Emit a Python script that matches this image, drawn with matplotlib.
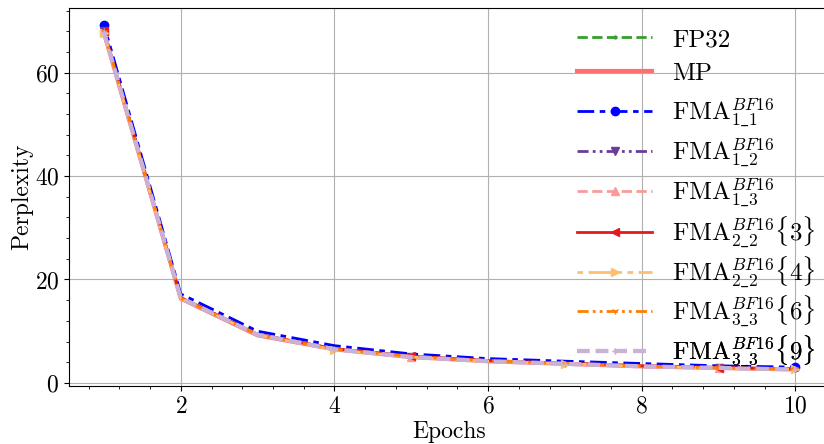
import numpy as np
import matplotlib
matplotlib.use('Agg')
import matplotlib.pyplot as plt
from matplotlib.ticker import AutoMinorLocator

plt.rcParams['font.family'] = 'serif'
plt.rcParams['font.serif'] = ['cmr10']
plt.rcParams['mathtext.fontset'] = 'cm'
plt.rcParams['axes.formatter.use_mathtext'] = True

epochs = [1, 2, 3, 4, 5, 6, 7, 8, 9, 10]

fp32 = [67.9, 16.4, 9.3, 6.5, 5.1, 4.3, 3.7, 3.3, 2.9, 2.65]
mp = [67.7, 16.3, 9.2, 6.5, 5.0, 4.2, 3.7, 3.2, 2.9, 2.6]
fma_1_1 = [69.3, 17.2, 10.0, 7.2, 5.6, 4.7, 4.2, 3.75, 3.3, 3.05]
fma_1_2 = [68.0, 16.5, 9.4, 6.6, 5.1, 4.3, 3.8, 3.3, 2.95, 2.7]
fma_1_3 = [67.8, 16.3, 9.3, 6.5, 5.0, 4.2, 3.7, 3.2, 2.9, 2.6]
fma_2_2_3 = [68.1, 16.5, 9.4, 6.6, 5.2, 4.3, 3.8, 3.3, 2.95, 2.7]
fma_2_2_4 = [67.6, 16.3, 9.3, 6.4, 5.0, 4.2, 3.7, 3.2, 2.85, 2.6]
fma_3_3_6 = [67.9, 16.4, 9.3, 6.5, 5.1, 4.3, 3.7, 3.25, 2.9, 2.65]
fma_3_3_9 = [67.8, 16.4, 9.3, 6.5, 5.0, 4.2, 3.7, 3.2, 2.9, 2.6]

labels = ['FP32', 'MP',
          r'FMA$^{BF16}_{1\_1}$',
          r'FMA$^{BF16}_{1\_2}$',
          r'FMA$^{BF16}_{1\_3}$',
          r'FMA$^{BF16}_{2\_2}\{3\}$',
          r'FMA$^{BF16}_{2\_2}\{4\}$',
          r'FMA$^{BF16}_{3\_3}\{6\}$',
          r'FMA$^{BF16}_{3\_3}\{9\}$']

fig = plt.figure(figsize=(8.24, 4.44), dpi=100)
ax = fig.add_axes([69/824, 58/444, 761/824, 378/444])

ax.plot(epochs, fp32, color='#33a02c', ls='--', marker='.', ms=4, lw=2, markevery=3, label=labels[0])
ax.plot(epochs, mp, color='#ff6f6f', ls='-', lw=3, label=labels[1])
ax.plot(epochs, fma_1_1, color='blue', ls=(0, (6, 2, 2, 2)), marker='o', ms=6, lw=2, markevery=9, label=labels[2])
ax.plot(epochs, fma_1_2, color='#6a3d9a', ls=(0, (4, 1.5, 1, 1.5, 1, 1.5)), marker='v', ms=6, lw=2, markevery=4, label=labels[3])
ax.plot(epochs, fma_1_3, color='#fb9a99', ls='--', marker='^', ms=6, lw=2, markevery=4, label=labels[4])
ax.plot(epochs, fma_2_2_3, color='#e31a1c', ls='-', marker='<', ms=6, lw=2, markevery=(0, 4), label=labels[5])
ax.plot(epochs, fma_2_2_4, color='#fdbf6f', ls=(0, (2, 2, 12, 2)), marker='>', ms=6, lw=2, markevery=3, label=labels[6])
ax.plot(epochs, fma_3_3_6, color='#ff7f00', ls=(0, (4, 1.5, 1, 1.5, 1, 1.5)), marker='1', ms=5, lw=2, markevery=3, label=labels[7])
ax.plot(epochs, fma_3_3_9, color='#cab2d6', ls=(0, (3, 1.5)), marker='+', ms=5, lw=3, markevery=3, label=labels[8])

ax.set_xlim(0.545, 10.45)
ax.set_ylim(-0.6, 72.5)
ax.set_xticks([2, 4, 6, 8, 10])
ax.set_yticks([0, 20, 40, 60])
ax.xaxis.set_minor_locator(AutoMinorLocator(5))
ax.yaxis.set_minor_locator(AutoMinorLocator(5))
ax.grid(True, color='#b0b0b0', lw=0.8)
ax.tick_params(labelsize=17)
ax.set_xlabel('Epochs', fontsize=17, labelpad=2)
ax.set_ylabel('Perplexity', fontsize=17, labelpad=1)

# legend rows placed one by one so the spacing is even, as in the original
row_y = [40, 74, 113, 153, 193, 232, 272, 311, 351]
handles = ax.get_lines()
for h, lab, y in zip(handles, labels, row_y):
    leg = plt.legend([h], [lab], loc='center left', bbox_to_anchor=(577/824, 1 - y/444),
                     bbox_transform=fig.transFigure, frameon=False, fontsize=18,
                     handlelength=3.0, handletextpad=0.8, borderpad=0, borderaxespad=0)
    ax.add_artist(leg)

fig.savefig('out.png', dpi=100)
